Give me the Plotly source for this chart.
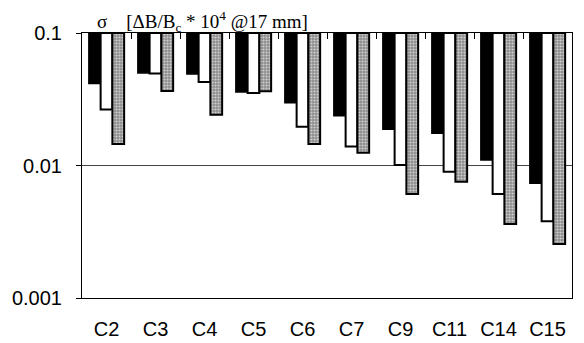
import plotly.graph_objects as go

categories = ["C2", "C3", "C4", "C5", "C6", "C7", "C9", "C11", "C14", "C15"]
series_black = [0.0416, 0.0500, 0.0490, 0.0359, 0.0298, 0.0237, 0.0188, 0.0175, 0.0110, 0.00734]
series_white = [0.0265, 0.0495, 0.0427, 0.0353, 0.0196, 0.0139, 0.0101, 0.00898, 0.0061, 0.00379]
series_gray = [0.0145, 0.0365, 0.0242, 0.0363, 0.0145, 0.0125, 0.0061, 0.00755, 0.00362, 0.00256]
top_value = 0.1
y_ticks = [0.001, 0.01, 0.1]
y_tick_labels = ["0.001", "0.01", "0.1"]


def hang(vals):
    return [v - top_value for v in vals]


fig = go.Figure()
fig.add_trace(go.Bar(x=categories, y=hang(series_black), base=[top_value] * len(categories),
                     marker=dict(color="black", line=dict(color="black", width=1.5)),
                     showlegend=False))
fig.add_trace(go.Bar(x=categories, y=hang(series_white), base=[top_value] * len(categories),
                     marker=dict(color="white", line=dict(color="black", width=2)),
                     showlegend=False))
fig.add_trace(go.Bar(x=categories, y=hang(series_gray), base=[top_value] * len(categories),
                     marker=dict(color="#8c8c8c", line=dict(color="black", width=2),
                                 pattern=dict(shape=".", bgcolor="#8c8c8c", fgcolor="#d0d0d0",
                                              size=3, solidity=0.4, fillmode="replace")),
                     showlegend=False))
# invisible helper trace so the top boundary-tick axis is drawn
fig.add_trace(go.Scatter(x=list(range(len(categories))), y=series_black, xaxis="x2", yaxis="y",
                         mode="markers", marker=dict(opacity=0), hoverinfo="skip",
                         showlegend=False))

fig.update_layout(
    width=584, height=343,
    margin=dict(l=82, r=12, t=33, b=45),
    paper_bgcolor="white", plot_bgcolor="white",
    barmode="group", bargap=0.28, bargroupgap=0,
    font=dict(family="Liberation Sans, Arial", size=20, color="black"),
    xaxis=dict(type="category", showline=True, linecolor="black", linewidth=1, mirror=True,
               ticks="outside", ticklen=13, tickcolor="rgba(0,0,0,0)", automargin=False,
               showgrid=False, tickfont=dict(size=20)),
    xaxis2=dict(type="linear", overlaying="x", anchor="y", side="top", range=[-0.5, 9.5],
                tickmode="linear", tick0=-0.5, dtick=1,
                ticks="inside", ticklen=6, tickwidth=1, tickcolor="black", showticklabels=False,
                showgrid=False, showline=True, linecolor="black", linewidth=1,
                zeroline=False, automargin=False),
    yaxis=dict(type="log", range=[-3, -1], tickvals=y_ticks, ticktext=y_tick_labels,
               showline=True, linecolor="black", linewidth=1, mirror=True,
               ticks="outside", ticklen=5, tickcolor="black", automargin=False,
               showgrid=True, gridcolor="#444444", gridwidth=1,
               ticklabelstandoff=10, tickfont=dict(size=20)),
    annotations=[dict(
        text="σ&nbsp;&nbsp;&nbsp;&nbsp;[ΔB/B<sub>c</sub> * 10<sup>4</sup> @17 mm]",
        xref="paper", yref="paper", x=0.027, y=1.0, xanchor="left", yanchor="bottom",
        yshift=-4,
        showarrow=False, font=dict(family="Liberation Serif, Times New Roman", size=19, color="black"))],
)
fig.write_html("out.html")
